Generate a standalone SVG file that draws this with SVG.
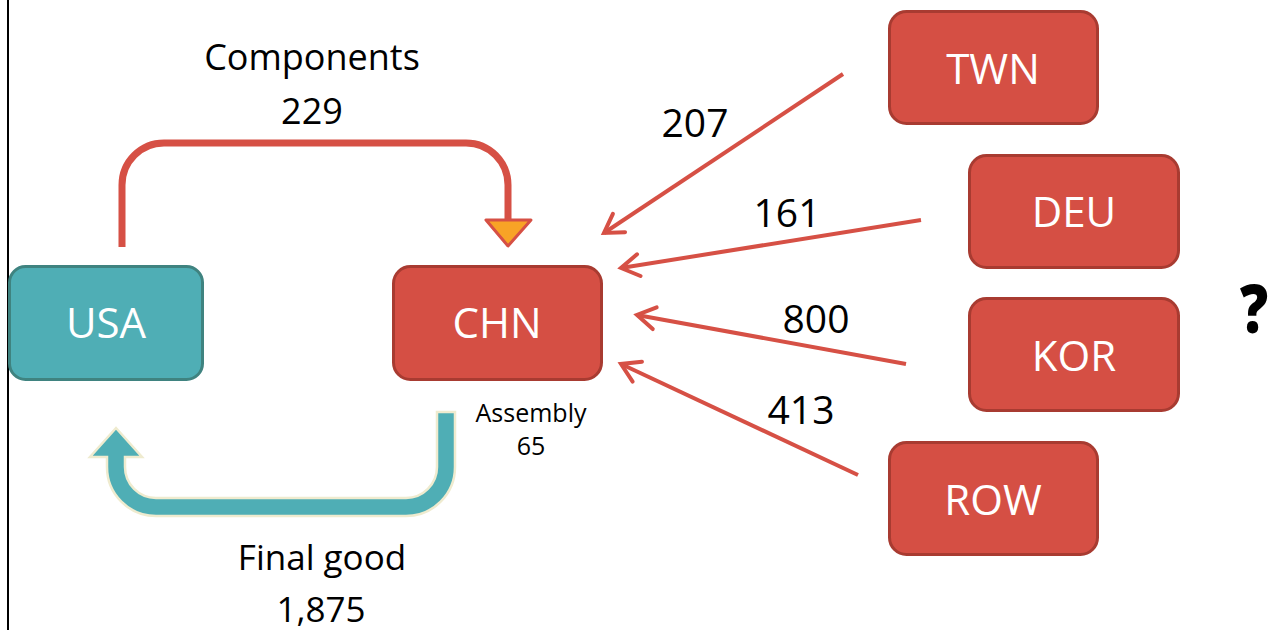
<svg xmlns="http://www.w3.org/2000/svg" width="1269" height="630" viewBox="0 0 1269 630">
<style>
.lbl{font-family:"Open Sans","Liberation Sans",sans-serif;fill:#000;text-anchor:middle}
.node text{font-family:"Open Sans","Liberation Sans",sans-serif;fill:#fff;font-size:42px;text-anchor:middle}
.red rect{fill:#d54f44;stroke:#a83b31;stroke-width:3}
.teal rect{fill:#4faeb5;stroke:#3f8380;stroke-width:3}
.flow{stroke:#d65045;stroke-width:4;fill:none;marker-end:url(#open)}
</style>
<defs>
<marker id="open" markerUnits="userSpaceOnUse" markerWidth="40" markerHeight="40" viewBox="-30 -20 40 40" refX="0" refY="0" orient="auto">
<path d="M-18 -11 L0 0 L-18 11" fill="none" stroke="#d65045" stroke-width="4" stroke-linecap="round" stroke-linejoin="miter"/>
</marker>
</defs>
<rect width="1269" height="630" fill="#fff"/>
<line x1="8" y1="0" x2="8" y2="630" stroke="#000" stroke-width="2"/>
<g id="connectors">
<path d="M122 247 V185 A42 42 0 0 1 164 143 H466 A42 42 0 0 1 508 185 V221" fill="none" stroke="#d65045" stroke-width="7"/>
<polygon points="486,220 531,220 508,246" fill="#f8a326" stroke="#d65045" stroke-width="3" stroke-linejoin="round"/>
<path d="M437 412 H455 V467 A49 49 0 0 1 406 516 H156 A49 49 0 0 1 107 467 V457 H90 L116 428 L142 457 H125 V467 A31 31 0 0 0 156 498 H406 A31 31 0 0 0 437 467 Z" fill="#4faeb5" stroke="#efebcf" stroke-width="2.5" stroke-linejoin="miter"/>
<line class="flow" x1="843" y1="74" x2="604" y2="233"/>
<line class="flow" x1="921" y1="220" x2="621" y2="268"/>
<line class="flow" x1="906" y1="364" x2="637" y2="315"/>
<line class="flow" x1="858" y1="475" x2="621" y2="364"/>
</g>
<g id="usa" class="node teal"><rect x="9.5" y="266.5" width="193" height="113" rx="16"/><text x="106" y="338">USA</text></g>
<g id="chn" class="node red"><rect x="393.5" y="266.5" width="208" height="113" rx="17"/><text x="497" y="338">CHN</text></g>
<g id="twn" class="node red"><rect x="889.5" y="11.5" width="208" height="112" rx="17"/><text x="993" y="84">TWN</text></g>
<g id="deu" class="node red"><rect x="969.5" y="155.5" width="209" height="112" rx="17"/><text x="1074" y="227">DEU</text></g>
<g id="kor" class="node red"><rect x="969.5" y="298.5" width="209" height="112" rx="17"/><text x="1074" y="371">KOR</text></g>
<g id="row" class="node red"><rect x="889.5" y="442.5" width="208" height="112" rx="17"/><text x="993" y="515">ROW</text></g>
<g id="labels">
<text class="lbl" x="312" y="70" font-size="36">Components</text>
<text class="lbl" x="312" y="124" font-size="36">229</text>
<text class="lbl" x="322" y="570" font-size="35">Final good</text>
<text class="lbl" x="321" y="622" font-size="35">1,875</text>
<text class="lbl" x="531" y="422" font-size="25">Assembly</text>
<text class="lbl" x="531" y="455" font-size="25">65</text>
<text class="lbl" x="695" y="137" font-size="39">207</text>
<text class="lbl" x="787" y="227" font-size="39">161</text>
<text class="lbl" x="816" y="333" font-size="39">800</text>
<text class="lbl" x="801" y="424" font-size="39">413</text>
<text transform="translate(1240 333) scale(0.82 1)" font-family="Open Sans, Liberation Sans, sans-serif" font-weight="800" font-size="68" fill="#000">?</text>
</g>
</svg>
